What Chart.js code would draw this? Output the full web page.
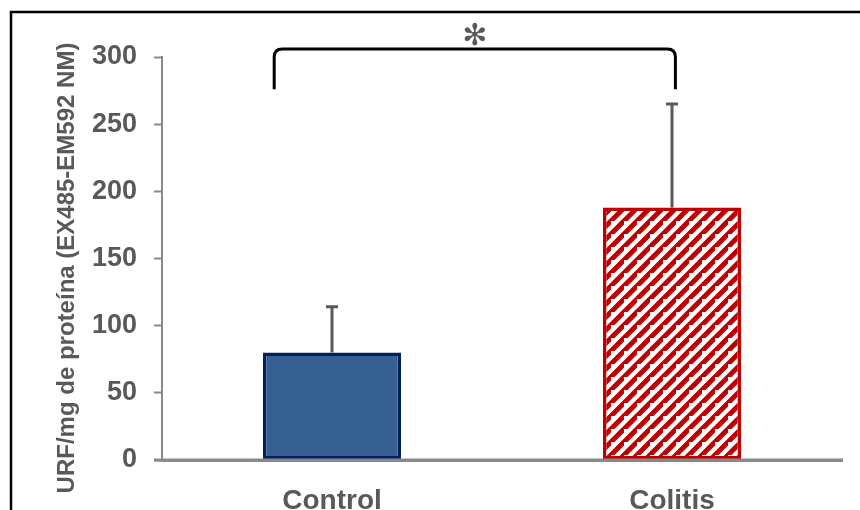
<!DOCTYPE html>
<html>
<head>
<meta charset="utf-8">
<script src="https://cdn.jsdelivr.net/npm/chart.js@4.4.1/dist/chart.umd.min.js"></script>
<style>
  body { margin: 0; background: #fff; }
  #wrap { width: 860px; height: 510px; }
</style>
</head>
<body>
<div id="wrap"><canvas id="urfChart" width="860" height="510"></canvas></div>
<script>
  // data
  const categories = ["Control", "Colitis"];
  const means = [80, 188];
  const errors = [34, 77];
  const yTicks = [0, 50, 100, 150, 200, 250, 300];
  const yTitle = "URF/mg de proteína (EX485-EM592 NM)";
  // significance bracket: category positions of the legs, and the y values
  const bracketX = [-0.17, 1.01];
  const bracketTop = 306;
  const bracketLegBottom = 276;
  const bracketLabel = "✻";

  const textGray = "#595959";
  const axisGray = "#898989";

  // red diagonal hatch for the colitis bar
  function makeHatch() {
    const size = 13;
    const c = document.createElement("canvas");
    c.width = size;
    c.height = size;
    const g = c.getContext("2d");
    g.fillStyle = "#ffffff";
    g.fillRect(0, 0, size, size);
    g.strokeStyle = "#c00000";
    g.lineWidth = 5;
    g.beginPath();
    g.moveTo(-size, size * 2); g.lineTo(size * 2, -size);
    g.moveTo(-size * 2, size); g.lineTo(size, -size * 2);
    g.moveTo(0, size * 2); g.lineTo(size * 2, 0);
    g.stroke();
    return g.createPattern(c, "repeat");
  }

  const errorBars = {
    id: "errorBars",
    afterDatasetsDraw(chart) {
      const ctx = chart.ctx;
      const y = chart.scales.y;
      const x = chart.scales.x;
      const area = chart.chartArea;
      ctx.save();
      // x axis line drawn again over the bar bottoms
      ctx.strokeStyle = axisGray;
      ctx.lineWidth = 3;
      ctx.beginPath();
      ctx.moveTo(area.left - 8, y.getPixelForValue(0));
      ctx.lineTo(area.right + 1, y.getPixelForValue(0));
      ctx.stroke();

      ctx.strokeStyle = textGray;
      ctx.lineWidth = 3;
      chart.getDatasetMeta(0).data.forEach(function (bar, i) {
        const top = y.getPixelForValue(means[i] + errors[i]);
        ctx.beginPath();
        ctx.moveTo(bar.x, bar.y);
        ctx.lineTo(bar.x, top);
        ctx.moveTo(bar.x - 6, top);
        ctx.lineTo(bar.x + 6, top);
        ctx.stroke();
      });

      // bracket
      const x0 = x.getPixelForValue(bracketX[0]);
      const x1 = x.getPixelForValue(bracketX[1]);
      const yt = y.getPixelForValue(bracketTop);
      const yb = y.getPixelForValue(bracketLegBottom);
      ctx.strokeStyle = "#000";
      ctx.lineWidth = 3;
      ctx.lineJoin = "round";
      ctx.beginPath();
      ctx.moveTo(x0, yb);
      ctx.lineTo(x0, yt + 8);
      ctx.quadraticCurveTo(x0, yt, x0 + 8, yt);
      ctx.lineTo(x1 - 8, yt);
      ctx.quadraticCurveTo(x1, yt, x1, yt + 8);
      ctx.lineTo(x1, yb);
      ctx.stroke();

      ctx.fillStyle = textGray;
      ctx.font = "bold 30px 'DejaVu Sans'";
      ctx.textAlign = "center";
      ctx.textBaseline = "middle";
      ctx.fillText(bracketLabel, (x0 + x1) / 2, yt - 12);
      ctx.restore();
    },
    beforeDraw(chart) {
      const ctx = chart.ctx;
      ctx.save();
      // outer frame
      ctx.strokeStyle = "#000";
      ctx.lineWidth = 2.5;
      ctx.beginPath();
      ctx.moveTo(11, 510);
      ctx.lineTo(11, 12);
      ctx.lineTo(860, 12);
      ctx.stroke();
      // y axis title
      ctx.fillStyle = textGray;
      ctx.font = "bold 24px 'Liberation Sans', Arial";
      ctx.textAlign = "center";
      ctx.textBaseline = "middle";
      ctx.translate(67, 268);
      ctx.rotate(-Math.PI / 2);
      ctx.fillText(yTitle, 0, 0);
      ctx.restore();
    }
  };

  const ctx = document.getElementById("urfChart").getContext("2d");
  new Chart(ctx, {
    type: "bar",
    data: {
      labels: categories,
      datasets: [{
        data: means,
        backgroundColor: ["#376092", makeHatch()],
        borderColor: ["#002060", "#c00000"],
        borderWidth: 3.5,
        borderSkipped: false,
        categoryPercentage: 1,
        barPercentage: 0.406
      }]
    },
    options: {
      responsive: false,
      animation: false,
      layout: { padding: { left: 0, top: 57, right: 18, bottom: 0 } },
      plugins: {
        legend: { display: false },
        tooltip: { enabled: false }
      },
      scales: {
        x: {
          grid: { display: false },
          border: { display: true, color: axisGray, width: 3 },
          ticks: {
            color: textGray,
            padding: 16,
            font: { family: "'Liberation Sans', Arial", size: 28, weight: "bold" }
          },
          afterFit(scale) { scale.height = 50; }
        },
        y: {
          min: yTicks[0],
          max: yTicks[yTicks.length - 1],
          afterBuildTicks(scale) {
            scale.ticks = yTicks.map(function (v) { return { value: v }; });
          },
          grid: {
            drawOnChartArea: false,
            drawTicks: true,
            tickLength: 8,
            tickWidth: 2,
            color: axisGray
          },
          border: { display: true, color: axisGray, width: 2 },
          ticks: {
            color: textGray,
            padding: 17,
            font: { family: "'Liberation Sans', Arial", size: 27, weight: "bold" }
          },
          afterFit(scale) { scale.width = 162; }
        }
      }
    },
    plugins: [errorBars]
  });
</script>
</body>
</html>
